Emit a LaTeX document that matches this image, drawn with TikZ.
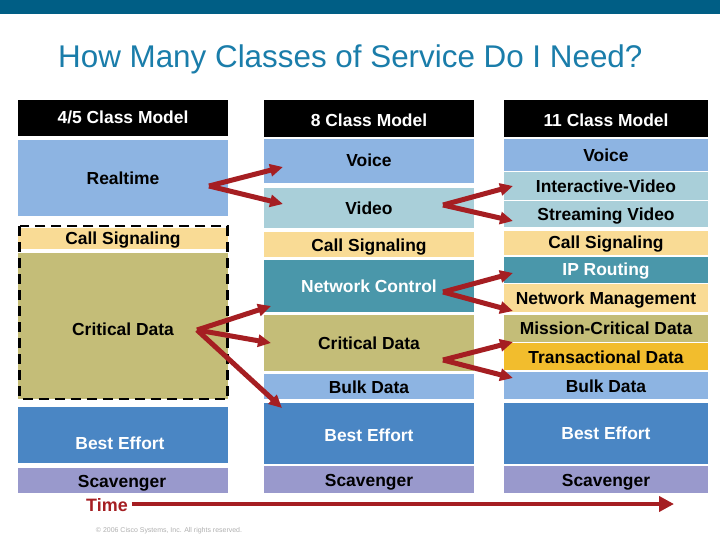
\documentclass[tikz,border=0pt]{standalone}
\usepackage{fontspec}
\setmainfont{Liberation Sans}
\usetikzlibrary{arrows.meta}
\definecolor{topbar}{HTML}{005E85}
\definecolor{titleblue}{HTML}{1A7DAA}
\definecolor{cvoice}{HTML}{8DB4E2}
\definecolor{cvideo}{HTML}{A9CFD9}
\definecolor{csig}{HTML}{F9DB95}
\definecolor{cnet}{HTML}{4A97AA}
\definecolor{ccrit}{HTML}{C4BD78}
\definecolor{ctrans}{HTML}{F2BD2D}
\definecolor{cbest}{HTML}{4A86C4}
\definecolor{cscav}{HTML}{9999CC}
\definecolor{arrowred}{HTML}{A51E22}
\definecolor{copygray}{HTML}{B0B0B0}
\begin{document}
\begin{tikzpicture}[x=1bp,y=-1bp,
  lbl/.style={font=\bfseries\fontsize{17.5}{20}\selectfont, anchor=base, inner sep=0pt, text=black},
  wlbl/.style={lbl, text=white},
  redarrow/.style={draw=arrowred, line width=5bp, -{Triangle[length=13bp,width=12bp]}},
  timearrow/.style={draw=arrowred, line width=4.5bp, -{Triangle[length=15bp,width=15bp]}}]
\useasboundingbox (0,0) rectangle (720,540);
\fill[white] (0,0) rectangle (720,540);
% top bar and title
\fill[topbar] (0,0) rectangle (720,14.5);
\node[anchor=base west, inner sep=0pt, text=titleblue, font=\fontsize{31.5}{36}\selectfont] (title) at (58,68) {How Many Classes of Service Do I Need?};

% ---------- column 1 ----------
\fill[black]  (18,100) rectangle (228,136);
\fill[cvoice] (18,140) rectangle (228,216);
\fill[csig]   (18,228) rectangle (228,249);
\fill[ccrit]  (18,253) rectangle (228,399);
\draw[line width=2.6bp, dash pattern=on 10bp off 6bp] (19.5,226) rectangle (227.5,399);
\fill[cbest]  (18,407) rectangle (228,463);
\fill[cscav]  (18,468) rectangle (228,493);
\node[wlbl] (h1) at (123,123.5) {4/5 Class Model};
\node[lbl] (a1) at (123,184.5) {Realtime};
\node[lbl] (a2) at (123,245) {Call Signaling};
\node[lbl] (a3) at (123,335.5) {Critical Data};
\node[wlbl] (a4) at (120,449.5) {Best Effort};
\node[lbl] (a5) at (122,487.5) {Scavenger};

% ---------- column 2 ----------
\fill[black]  (264,100) rectangle (474,137);
\fill[cvoice] (264,139) rectangle (474,183);
\fill[cvideo] (264,188) rectangle (474,228);
\fill[csig]   (264,232) rectangle (474,257);
\fill[cnet]   (264,260) rectangle (474,312);
\fill[ccrit]  (264,315) rectangle (474,371);
\fill[cvoice] (264,374) rectangle (474,399);
\fill[cbest]  (264,403) rectangle (474,464);
\fill[cscav]  (264,466) rectangle (474,493);
\node[wlbl] (h2) at (369,126.5) {8 Class Model};
\node[lbl] (b1) at (369,166.5) {Voice};
\node[lbl] (b2) at (369,214.5) {Video};
\node[lbl] (b3) at (369,252) {Call Signaling};
\node[wlbl] (b4) at (369,292.5) {Network Control};
\node[lbl] (b5) at (369,349) {Critical Data};
\node[lbl] (b6) at (369,393) {Bulk Data};
\node[wlbl] (b7) at (369,441.5) {Best Effort};
\node[lbl] (b8) at (369,486) {Scavenger};

% ---------- column 3 ----------
\fill[black]  (504,100) rectangle (708,137);
\fill[cvoice] (504,139) rectangle (708,171);
\fill[cvideo] (504,172) rectangle (708,200);
\fill[cvideo] (504,201) rectangle (708,227);
\fill[csig]   (504,231) rectangle (708,255);
\fill[cnet]   (504,257) rectangle (708,283);
\fill[csig]   (504,284) rectangle (708,312);
\fill[ccrit]  (504,315) rectangle (708,342);
\fill[ctrans] (504,343) rectangle (708,370);
\fill[cvoice] (504,372) rectangle (708,399);
\fill[cbest]  (504,403) rectangle (708,464);
\fill[cscav]  (504,466) rectangle (708,493);
\node[wlbl] (h3) at (606,126.5) {11 Class Model};
\node[lbl] (c1) at (606,161.5) {Voice};
\node[lbl] (c2) at (606,193) {Interactive-Video};
\node[lbl] (c3) at (606,221) {Streaming Video};
\node[lbl] (c4) at (606,249) {Call Signaling};
\node[wlbl] (c5) at (606,276) {IP Routing};
\node[lbl] (c6) at (606,304.5) {Network Management};
\node[lbl] (c7) at (606,334.5) {Mission-Critical Data};
\node[lbl] (c8) at (606,363.5) {Transactional Data};
\node[lbl] (c9) at (606,392) {Bulk Data};
\node[wlbl] (c10) at (606,439.5) {Best Effort};
\node[lbl] (c11) at (606,486) {Scavenger};

% ---------- arrow coordinates ----------
\coordinate (rtv) at (209,186);
\coordinate (rtvoice) at (283,167);
\coordinate (rtvideo) at (283,204);
\coordinate (vdv) at (443,205);
\coordinate (vdint) at (513,186);
\coordinate (vdstr) at (513,221);
\coordinate (ncv) at (443,292);
\coordinate (ncip) at (513,273);
\coordinate (ncnm) at (513,311);
\coordinate (cdv) at (197,330);
\coordinate (cdnc) at (271,306);
\coordinate (cdcd) at (271,343);
\coordinate (cdbe) at (282,408);
\coordinate (cd2v) at (443,360);
\coordinate (cd2mc) at (513,342);
\coordinate (cd2tr) at (513,378);

\draw[redarrow] (rtv) -- (rtvoice);
\draw[redarrow] (rtv) -- (rtvideo);
\draw[redarrow] (vdv) -- (vdint);
\draw[redarrow] (vdv) -- (vdstr);
\draw[redarrow] (ncv) -- (ncip);
\draw[redarrow] (ncv) -- (ncnm);
\draw[redarrow] (cdv) -- (cdnc);
\draw[redarrow] (cdv) -- (cdcd);
\draw[redarrow] (cdv) -- (cdbe);
\draw[redarrow] (cd2v) -- (cd2mc);
\draw[redarrow] (cd2v) -- (cd2tr);

% ---------- time axis ----------
\node[anchor=base west, inner sep=0pt, text=arrowred, font=\bfseries\fontsize{18}{20}\selectfont] (time) at (86,511.5) {Time};
\coordinate (timeend) at (674,504);
\coordinate (timestart) at ([xshift=4bp]time.east |- timeend);
\draw[timearrow] (timestart) -- (timeend);

\node[inner sep=0pt, text=copygray, font=\fontsize{7}{8}\selectfont] (copy) at (169,531) {© 2006 Cisco Systems, Inc. All rights reserved.};
\end{tikzpicture}
\end{document}
